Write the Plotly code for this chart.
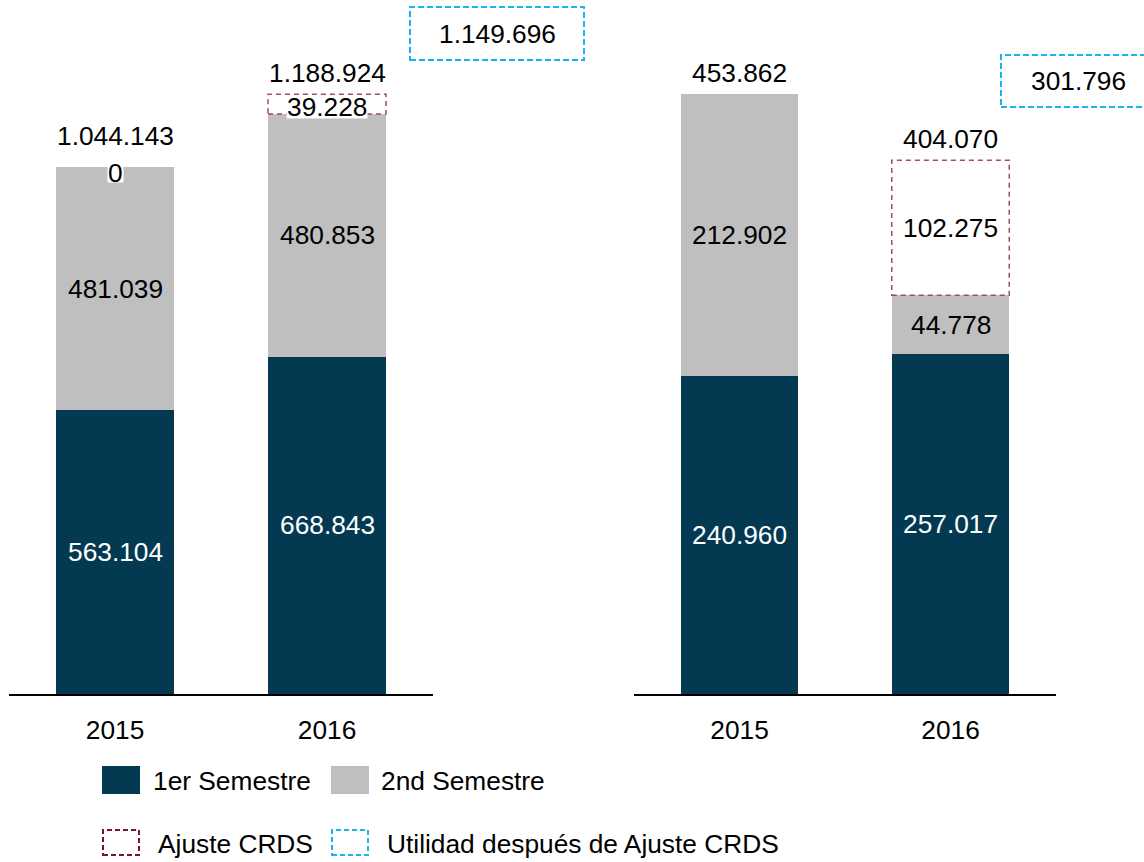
import plotly.graph_objects as go

# ---- data (thousands) ----
years = ["2015", "2016"]

left_sem1 = [563.104, 668.843]
left_sem2 = [481.039, 480.853]
left_ajuste = [0.0, 39.228]
left_utilidad = 1149.696

right_sem1 = [240.960, 257.017]
right_sem2 = [212.902, 44.778]
right_ajuste = [None, 102.275]   # no adjustment reported for 2015
right_utilidad = 301.796

series_names = ["1er Semestre", "2nd Semestre", "Ajuste CRDS", "Utilidad después de Ajuste CRDS"]

# ---- style ----
NAVY = "#033A52"
GRAY = "#BFBFBF"
MAROON_BAR = "#9B4F68"
MAROON_LEG = "#7A1433"
CYAN = "#1FB2EA"
FONT = "Liberation Sans, Arial, sans-serif"
FS = 26.3
W, H = 1144, 862
BAR_W = 0.557


def fmt(v):
    return f"{round(v * 1000):,}".replace(",", ".")


def px(x):
    return x / W


def py(y):
    return 1 - y / H


def label(x, y, xref, yref, text, color="black", **kw):
    d = dict(x=x, y=y, xref=xref, yref=yref, text=text, showarrow=False,
             xanchor="center", yanchor="middle",
             font=dict(color=color, size=FS, family=FONT))
    d.update(kw)
    return d


fig = go.Figure()
annotations = []
shapes = []

panels = [
    ("x", "y", left_sem1, left_sem2, left_ajuste),
    ("x2", "y2", right_sem1, right_sem2, right_ajuste),
]

for xa, ya, s1, s2, aj in panels:
    aj_vals = [0.0 if v is None else v for v in aj]
    fig.add_trace(go.Bar(x=years, y=s1, marker=dict(color=NAVY, line=dict(width=0)),
                         xaxis=xa, yaxis=ya, showlegend=False, name=series_names[0],
                         width=BAR_W))
    fig.add_trace(go.Bar(x=years, y=s2, marker=dict(color=GRAY, line=dict(width=0)),
                         xaxis=xa, yaxis=ya, showlegend=False, name=series_names[1],
                         width=BAR_W))
    fig.add_trace(go.Bar(x=years, y=aj_vals, marker=dict(color="white", line=dict(width=0)),
                         xaxis=xa, yaxis=ya, showlegend=False, name=series_names[2],
                         width=BAR_W))
    for i, yr in enumerate(years):
        base2 = s1[i]
        base3 = s1[i] + s2[i]
        total = base3 + aj_vals[i]
        # segment labels (category axes take the category index)
        annotations.append(label(i, s1[i] / 2, xa, ya, fmt(s1[i]), color="white"))
        annotations.append(label(i, base2 + s2[i] / 2, xa, ya, fmt(s2[i])))
        shift = 21
        if aj[i] is not None:
            # dashed outline of the adjustment segment
            if aj[i] > 0:
                shapes.append(dict(type="rect", xref=xa, yref=ya,
                                   x0=i - BAR_W / 2, x1=i + BAR_W / 2, y0=base3, y1=total,
                                   line=dict(color=MAROON_BAR, width=1.5, dash="5px,4px"),
                                   fillcolor="rgba(0,0,0,0)", layer="above"))
            small = aj[i] < 60
            extra = {}
            if small:
                extra = dict(yshift=-3 if aj[i] > 0 else -6, bgcolor="white",
                             borderpad=0, height=22 if aj[i] > 0 else 18)
            annotations.append(label(i, base3 + aj[i] / 2, xa, ya, fmt(aj[i]), **extra))
            if aj[i] == 0:
                shift = 31
        # total above the bar
        annotations.append(label(i, total, xa, ya, fmt(total), yshift=shift))

# callout boxes with the result after the adjustment
callouts = [
    (left_utilidad, 410, 584, 7, 60, 497),
    (right_utilidad, 1001, 1160, 55, 107, 1078),
]
for val, x0, x1, y0, y1, tx in callouts:
    shapes.append(dict(type="rect", xref="paper", yref="paper",
                       x0=px(x0), x1=px(x1), y0=py(y1), y1=py(y0),
                       line=dict(color=CYAN, width=2, dash="6px,3px"),
                       fillcolor="rgba(0,0,0,0)"))
    annotations.append(label(px(tx), py((y0 + y1) / 2), "paper", "paper", fmt(val)))

# legend drawn as swatches + labels
legend_rows = [
    (0, 102, 140, 766, 794, 151, dict(type="rect", fillcolor=NAVY, line=dict(width=0))),
    (1, 331, 369, 766, 794, 379, dict(type="rect", fillcolor=GRAY, line=dict(width=0))),
    (2, 103, 139, 830, 855, 156, dict(type="rect", fillcolor="white",
                                      line=dict(color=MAROON_LEG, width=2, dash="5px,3px"))),
    (3, 332, 368, 830, 855, 385, dict(type="rect", fillcolor="white",
                                      line=dict(color=CYAN, width=2, dash="5px,3px"))),
]
for idx, x0, x1, y0, y1, tx, sty in legend_rows:
    shp = dict(xref="paper", yref="paper", x0=px(x0), x1=px(x1), y0=py(y1), y1=py(y0))
    shp.update(sty)
    shapes.append(shp)
    annotations.append(label(px(tx), py((y0 + y1) / 2 + 1), "paper", "paper",
                             series_names[idx], xanchor="left"))

BOTTOM_PX = 694
ydom = [py(BOTTOM_PX), 1.0]
left_scale = 0.5045   # px per thousand
right_scale = 1.321

xaxis_common = dict(type="category", showgrid=False, zeroline=False, showline=True,
                    linecolor="black", linewidth=2, ticks="outside", ticklen=11,
                    tickcolor="rgba(0,0,0,0)", tickfont=dict(size=FS, family=FONT, color="black"),
                    fixedrange=True, range=[-0.5, 1.5])
yaxis_common = dict(visible=False, showgrid=False, zeroline=False, fixedrange=True)

fig.update_layout(
    width=W, height=H,
    margin=dict(l=0, r=0, t=0, b=0),
    paper_bgcolor="white", plot_bgcolor="white",
    barmode="stack",
    showlegend=False,
    font=dict(family=FONT, size=FS, color="black"),
    xaxis=dict(domain=[px(9), px(433)], anchor="y", **xaxis_common),
    xaxis2=dict(domain=[px(634), px(1056)], anchor="y2", **xaxis_common),
    yaxis=dict(domain=ydom, anchor="x", range=[0, BOTTOM_PX / left_scale], **yaxis_common),
    yaxis2=dict(domain=ydom, anchor="x2", range=[0, BOTTOM_PX / right_scale], **yaxis_common),
    shapes=shapes,
    annotations=annotations,
)

fig.write_html("out.html")
